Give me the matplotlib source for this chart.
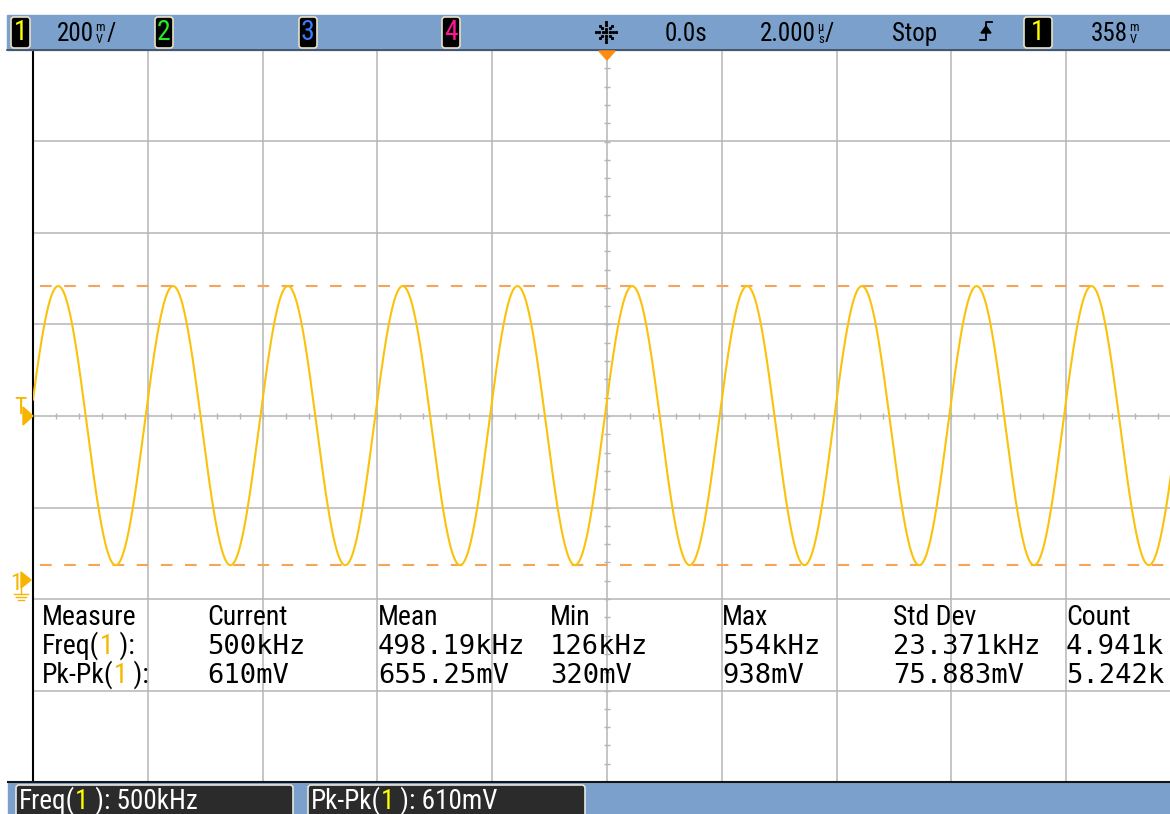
import numpy as np
import matplotlib
matplotlib.use("Agg")
import matplotlib.pyplot as plt
from matplotlib import font_manager as fm
from matplotlib.patches import Rectangle, FancyBboxPatch, Polygon

# ---------------- data ----------------
time_per_div_us = 2.0        # 2.000 us/div
volts_per_div = 0.2          # 200 mV/div
screen_center_v = 0.358      # channel offset (ground marker position)
n_hdiv = 10
n_vdiv = 8
freq_khz = 500.0
wave_max_v = 0.642
wave_min_v = 0.032
peak_time_us = 0.44
trigger_level_v = 0.358

top_channels = ["1", "2", "3", "4"]
top_channel_colors = ["#ffff00", "#22ee22", "#3a7bff", "#ff1493"]
top_texts = ["0.0s", "Stop"]

meas_headers = ["Measure", "Current", "Mean", "Min", "Max", "Std Dev", "Count"]
meas_names = ["Freq", "Pk-Pk"]
freq_values = ["500kHz", "498.19kHz", "126kHz", "554kHz", "23.371kHz", "4.941k"]
pkpk_values = ["610mV", "655.25mV", "320mV", "938mV", "75.883mV", "5.242k"]
bottom_values = ["500kHz", "610mV"]

# ---------------- fonts ----------------
narrow_path = None
cands = []
for f in fm.fontManager.ttflist:
    nm = f.name.lower()
    fn = f.fname.lower()
    if f.style != "normal":
        continue
    if str(f.weight) not in ("400", "normal", "regular", "book"):
        continue
    if ("narrow" in nm or "condensed" in nm or "narrow" in fn or "condensed" in fn
            or f.stretch in ("condensed", "semi-condensed")):
        cands.append(f)
pref = ["liberation sans narrow", "roboto condensed", "open sans condensed", "dejavu sans"]
cands.sort(key=lambda f: next((i for i, p in enumerate(pref) if p in f.name.lower()), 99))
if cands:
    narrow_path = cands[0].fname
NARROW_SCALE = 1.0 if narrow_path else 0.86
MONO = "DejaVu Sans Mono"


def nfp(size):
    if narrow_path:
        return fm.FontProperties(fname=narrow_path, size=size)
    return fm.FontProperties(family="DejaVu Sans", size=size * NARROW_SCALE)


W, H = 1170, 814
fig = plt.figure(figsize=(W / 100, H / 100), dpi=100)
fig.patch.set_facecolor("white")

left_px, right_px = 33, 1181
top_px, bot_px = 50, 782
ax = fig.add_axes([left_px / W, 1 - bot_px / H, (right_px - left_px) / W, (bot_px - top_px) / H])
half_t = n_hdiv / 2 * time_per_div_us
half_v = n_vdiv / 2 * volts_per_div
ax.set_xlim(-half_t, half_t)
ax.set_ylim(screen_center_v - half_v, screen_center_v + half_v)
ax.set_facecolor("white")
for s in ["top", "right", "bottom"]:
    ax.spines[s].set_visible(False)
ax.spines["left"].set_color("black")
ax.spines["left"].set_linewidth(1.5)
ax.set_xticks([])
ax.set_yticks([])

grid_c = "#b5b5b5"
for xv in np.arange(-half_t + time_per_div_us, half_t + 0.001, time_per_div_us):
    ax.axvline(xv, color=grid_c, lw=1.1, zorder=1)
for k in range(-n_vdiv // 2 + 1, n_vdiv // 2 + 1):
    ax.axhline(screen_center_v + k * volts_per_div, color=grid_c, lw=1.1, zorder=1)
xs = np.arange(-half_t, half_t + 0.001, time_per_div_us / 5)
ax.plot(xs, np.full_like(xs, screen_center_v), ls="none", marker="|", ms=5, mew=1.0, color=grid_c, zorder=1)
ys = screen_center_v + np.arange(-n_vdiv * 5 // 2, n_vdiv * 5 // 2 + 1) * volts_per_div / 5
ax.plot(np.zeros_like(ys), ys, ls="none", marker="_", ms=5, mew=1.0, color=grid_c, zorder=1)

ax.hlines([wave_max_v, wave_min_v], -9.88, half_t, colors="#f5a55a", lw=1.5,
          linestyles=[(0, (5.6, 6.0))], zorder=2)

t = np.linspace(-half_t, half_t, 6001)
mid = (wave_max_v + wave_min_v) / 2
amp = (wave_max_v - wave_min_v) / 2
f_mhz = freq_khz / 1000.0
v = mid + amp * np.cos(2 * np.pi * f_mhz * (t - peak_time_us))
ax.plot(t, v, color="#fbc20c", lw=1.5, zorder=3)

# ---------------- overlay (pixel coordinates) ----------------
ov = fig.add_axes([0, 0, 1, 1], zorder=5)
ov.set_xlim(0, W)
ov.set_ylim(H, 0)
ov.axis("off")
ov.patch.set_alpha(0)

bar_c = "#7ba0cc"
ov.add_patch(Rectangle((7, 15), W - 7, 35, color=bar_c, zorder=1))
ov.plot([7, W], [50, 50], color="#3c4a5c", lw=1.2, zorder=2)
ov.add_patch(Rectangle((8, 782), W - 8, H - 782, color=bar_c, zorder=1))
ov.plot([8, W], [782, 782], color="#151515", lw=1.5, zorder=2)


def box(x0, x1, y0, y1, fc="black", ec="#e8e2c8"):
    ov.add_patch(FancyBboxPatch((x0, y0), x1 - x0, y1 - y0,
                                boxstyle="round,pad=0,rounding_size=3",
                                fc=fc, ec=ec, lw=1.2, zorder=3))


chan_boxes = [(11, 30), (155, 173), (299, 317), (442, 460)]
for (x0, x1), lab, col in zip(chan_boxes, top_channels, top_channel_colors):
    box(x0, x1, 17, 48)
    ov.text((x0 + x1) / 2, 33, lab, color=col, fontproperties=nfp(20),
            ha="center", va="center", zorder=4)

top_fs = 18


def stacked(x, y, main, up, down, slash=True):
    t0 = ov.text(x, y, main, fontproperties=nfp(top_fs), color="black", va="baseline", zorder=4)
    tu = ov.annotate(up, xy=(1, 0.52), xycoords=t0, xytext=(1, 0), textcoords="offset points",
                     ha="left", va="bottom", fontproperties=nfp(9), zorder=4)
    ov.annotate(down, xy=(1, 0.50), xycoords=t0, xytext=(1.5, 1), textcoords="offset points",
                ha="left", va="top", fontproperties=nfp(9), zorder=4)
    if slash:
        ov.annotate("/", xy=(1, 0), xycoords=(tu, t0), xytext=(1, 0), textcoords="offset points",
                    ha="left", va="bottom", fontproperties=nfp(top_fs), zorder=4)


stacked(57, 41, "200", "m", "V")

cx, cy = 606, 32
for ang in np.arange(0, 360, 45):
    a = np.deg2rad(ang)
    rs = np.array([3.5, 7, 10]) if ang % 90 == 0 else np.array([5, 9])
    ov.plot(cx + rs * np.cos(a), cy + rs * np.sin(a), ls="none", marker="s", ms=1.2,
            color="black", zorder=4)
ov.plot([cx], [cy], ls="none", marker="s", ms=1.6, color="black", zorder=4)

ov.text(665, 41, top_texts[0], fontproperties=nfp(top_fs), va="baseline", zorder=4)
stacked(760, 41, "2.000", "µ", "s")
ov.text(892, 41, top_texts[1], fontproperties=nfp(top_fs), va="baseline", zorder=4)

# trigger edge symbol (rising)
ov.plot([980, 986, 986, 992], [40, 40, 22, 22], color="black", lw=1.3, zorder=4)
ov.add_patch(Polygon([[981, 33], [991, 33], [986, 26]], color="black", zorder=4))
box(1024, 1052, 17, 48)
ov.text(1038, 33, top_channels[0], color=top_channel_colors[0], fontproperties=nfp(20),
        ha="center", va="center", zorder=4)
stacked(1091, 41, "358", "m", "V", slash=False)

ov.add_patch(Polygon([[599, 51], [615, 51], [607, 60]], color="#ff8c10", zorder=4))

mk_c = "#f7b500"
ov.text(14, 414, "T", fontproperties=nfp(17), color=mk_c, va="baseline", zorder=4)
ov.add_patch(Polygon([[23, 407], [23, 425], [33, 416]], color=mk_c, zorder=4))
ov.text(10, 590, "1", fontproperties=nfp(17), color=mk_c, va="baseline", zorder=4)
ov.add_patch(Polygon([[21, 572], [21, 588], [31, 580]], color=mk_c, zorder=4))
ov.plot([21, 21], [588, 594], color=mk_c, lw=1, zorder=4)
ov.plot([14, 28], [594, 594], color=mk_c, lw=1, zorder=4)
ov.plot([16, 26], [597, 597], color=mk_c, lw=1, zorder=4)
ov.plot([18, 24], [600, 600], color=mk_c, lw=1, zorder=4)


def chain(x, y, parts, fp):
    txt = ov.text(x, y, parts[0][0], color=parts[0][1], fontproperties=fp,
                  va="baseline", ha="left", zorder=6)
    for s, c in parts[1:]:
        txt = ov.annotate(s, xy=(1, 0), xycoords=txt, va="bottom", ha="left",
                          color=c, fontproperties=fp, zorder=6)
    return txt


col_x = [42, 207, 378, 550, 722, 893, 1066]
row_y = [625, 654, 683]
meas_fs = 20
for x, h in zip(col_x, meas_headers):
    ov.text(x, row_y[0], h, fontproperties=nfp(meas_fs), va="baseline", zorder=6)
yel = "#f5b800"
for r, (nm, vals) in enumerate(zip(meas_names, [freq_values, pkpk_values])):
    y = row_y[r + 1]
    chain(col_x[0], y, [(nm + "(", "black"), ("1", yel), (" ):", "black")], nfp(meas_fs))
    for x, val in zip(col_x[1:], vals):
        ov.text(x, y, val, fontsize=19.5, family=MONO, va="baseline", zorder=6)

box(16, 293, 785, 822, fc="#2b2b2b", ec="#e8e8e0")
box(308, 585, 785, 822, fc="#2b2b2b", ec="#e8e8e0")
chain(19, 809, [("Freq(", "white"), ("1", "#ffff00"), (" ): " + bottom_values[0], "white")], nfp(19.5))
chain(311, 809, [("Pk-Pk(", "white"), ("1", "#ffff00"), (" ): " + bottom_values[1], "white")], nfp(19.5))

fig.savefig("out.png", dpi=100, facecolor="white")
